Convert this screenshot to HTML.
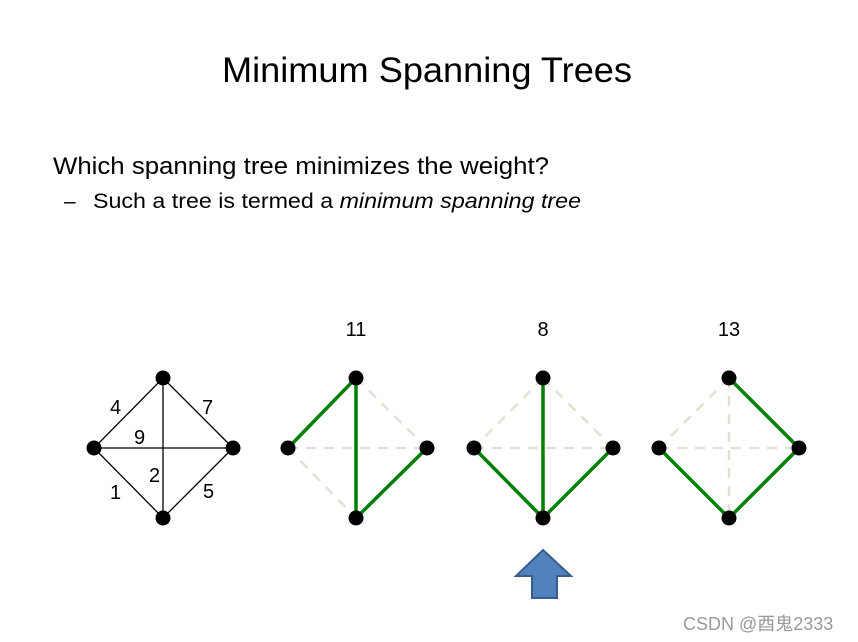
<!DOCTYPE html>
<html><head><style>
body{margin:0;background:#fff;}
svg{display:block;font-family:"Liberation Sans","Noto Sans CJK SC",sans-serif;}
</style></head><body>
<svg width="858" height="642" viewBox="0 0 858 642">
<text x="222" y="82" font-size="35" textLength="410" lengthAdjust="spacingAndGlyphs">Minimum Spanning Trees</text>
<text x="53" y="174" font-size="24" textLength="496" lengthAdjust="spacingAndGlyphs">Which spanning tree minimizes the weight?</text>
<text x="64" y="208" font-size="21">–</text>
<text x="93" y="208" font-size="21" textLength="488" lengthAdjust="spacingAndGlyphs">Such a tree is termed a <tspan font-style="italic">minimum spanning tree</tspan></text>
<text x="356" y="336" font-size="20" text-anchor="middle">11</text>
<text x="543" y="336" font-size="20" text-anchor="middle">8</text>
<text x="729" y="336" font-size="20" text-anchor="middle">13</text>
<g stroke="#000" stroke-width="1.3">
<line x1="163" y1="378" x2="94" y2="448"/><line x1="163" y1="378" x2="233" y2="448"/>
<line x1="94" y1="448" x2="163" y2="518"/><line x1="233" y1="448" x2="163" y2="518"/>
<line x1="94" y1="448" x2="233" y2="448"/><line x1="163" y1="378" x2="163" y2="518"/>
</g>
<g font-size="20"><text x="110" y="414">4</text><text x="202" y="414">7</text><text x="134" y="444">9</text><text x="149" y="482">2</text><text x="110" y="499">1</text><text x="203" y="498">5</text></g>
<g stroke="#e2e2d4" stroke-width="2.5" stroke-dasharray="10,8">
<line x1="356" y1="378" x2="427" y2="448"/><line x1="288" y1="448" x2="427" y2="448"/><line x1="288" y1="448" x2="356" y2="518"/>
<line x1="543" y1="378" x2="474" y2="448"/><line x1="543" y1="378" x2="613" y2="448"/><line x1="474" y1="448" x2="613" y2="448"/>
<line x1="729" y1="378" x2="659" y2="448"/><line x1="659" y1="448" x2="799" y2="448"/><line x1="729" y1="378" x2="729" y2="518"/>
</g>
<g stroke="#008000" stroke-width="3.5">
<line x1="356" y1="378" x2="288" y2="448"/><line x1="356" y1="378" x2="356" y2="518"/><line x1="427" y1="448" x2="356" y2="518"/>
<line x1="474" y1="448" x2="543" y2="518"/><line x1="543" y1="378" x2="543" y2="518"/><line x1="613" y1="448" x2="543" y2="518"/>
<line x1="659" y1="448" x2="729" y2="518"/><line x1="799" y1="448" x2="729" y2="518"/><line x1="729" y1="378" x2="799" y2="448"/>
</g>
<g fill="#000">
<circle cx="163" cy="378" r="7.5"/><circle cx="94" cy="448" r="7.5"/><circle cx="233" cy="448" r="7.5"/><circle cx="163" cy="518" r="7.5"/>
<circle cx="356" cy="378" r="7.5"/><circle cx="288" cy="448" r="7.5"/><circle cx="427" cy="448" r="7.5"/><circle cx="356" cy="518" r="7.5"/>
<circle cx="543" cy="378" r="7.5"/><circle cx="474" cy="448" r="7.5"/><circle cx="613" cy="448" r="7.5"/><circle cx="543" cy="518" r="7.5"/>
<circle cx="729" cy="378" r="7.5"/><circle cx="659" cy="448" r="7.5"/><circle cx="799" cy="448" r="7.5"/><circle cx="729" cy="518" r="7.5"/>
</g>
<polygon points="543,550 571,576 557,576 557,598 532,598 532,576 516,576" fill="#4f81bd" stroke="#385d8a" stroke-width="2"/>
<text x="683" y="630" font-size="18" fill="#999">CSDN @酉鬼2333</text>
</svg>
</body></html>
